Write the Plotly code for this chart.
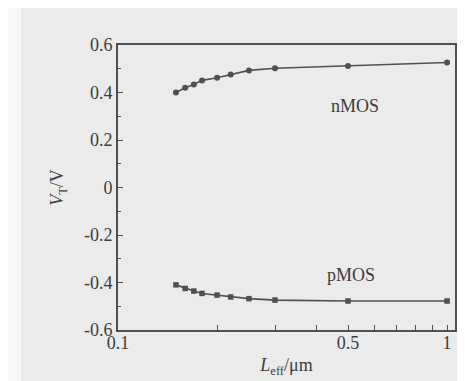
import math
import plotly.graph_objects as go

L_eff = [0.15, 0.16, 0.17, 0.18, 0.2, 0.22, 0.25, 0.3, 0.5, 1.0]
vt_nmos = [0.400, 0.420, 0.434, 0.451, 0.462, 0.476, 0.493, 0.502, 0.512, 0.526]
vt_pmos = [-0.410, -0.425, -0.436, -0.446, -0.453, -0.461, -0.468, -0.474, -0.478, -0.478]
x_tickvals = [0.1, 0.5, 1]
x_ticktext = ["0.1", "0.5", "1"]
x_minor = [0.2, 0.3, 0.4, 0.6, 0.7, 0.8, 0.9]
y_tickvals = [-0.6, -0.4, -0.2, 0, 0.2, 0.4, 0.6]
y_ticktext = ["-0.6", "-0.4", "-0.2", "0", "0.2", "0.4", "0.6"]
labels = ["nMOS", "pMOS"]
label_x = [0.525, 0.51]
label_y = [0.343, -0.368]

ink = "#505050"
txt = "#3c3c3c"
bg = "#ebebeb"
font = "Liberation Serif"

fig = go.Figure()
fig.add_trace(go.Scatter(x=L_eff, y=vt_nmos, mode="lines+markers",
                         line=dict(color=ink, width=1.6),
                         marker=dict(symbol="circle", size=6, color=ink),
                         showlegend=False))
fig.add_trace(go.Scatter(x=L_eff, y=vt_pmos, mode="lines+markers",
                         line=dict(color=ink, width=1.6),
                         marker=dict(symbol="square", size=5.5, color=ink),
                         showlegend=False))

for t, lx, ly in zip(labels, label_x, label_y):
    fig.add_annotation(x=math.log10(lx), y=ly, xref="x", yref="y", text=t, showarrow=False,
                       font=dict(family=font, size=18, color=txt), xanchor="center")

# light scanned margin strip at the left edge
fig.add_shape(type="rect", xref="paper", yref="paper",
              x0=-110 / 337, x1=(13 - 110) / 337, y0=-59 / 285, y1=1 + 37 / 285,
              fillcolor="#f7f7f7", line=dict(width=0), layer="below")

fig.update_layout(
    width=465, height=381,
    margin=dict(l=110, r=18, t=37, b=59),
    paper_bgcolor=bg, plot_bgcolor=bg,
    font=dict(family=font, size=18, color=txt),
    xaxis=dict(type="log", range=[-1, 0.024],
               tickmode="array", tickvals=x_tickvals, ticktext=x_ticktext,
               ticks="inside", ticklen=5, tickwidth=1.2, tickcolor=ink,
               ticklabelstandoff=-4,
               minor=dict(tickmode="array", tickvals=x_minor, ticks="inside",
                          ticklen=5, tickwidth=1.2, tickcolor=ink),
               showgrid=False, zeroline=False,
               showline=True, linecolor=ink, linewidth=1.6, mirror=True,
               title=dict(text="<i>L</i><sub>eff</sub>/μm", standoff=6,
                          font=dict(family=font, size=18))),
    yaxis=dict(range=[-0.6, 0.6],
               tickmode="array", tickvals=y_tickvals, ticktext=y_ticktext,
               ticks="inside", ticklen=5, tickwidth=1.2, tickcolor=ink,
               ticklabelstandoff=0,
               minor=dict(dtick=0.1, ticks="inside", ticklen=3, tickwidth=1.2, tickcolor=ink),
               showgrid=False, zeroline=False,
               showline=True, linecolor=ink, linewidth=1.6, mirror=True,
               title=dict(text="<i>V</i><sub>T</sub>/V", standoff=16,
                          font=dict(family=font, size=18))),
)

fig.write_html("out.html")
